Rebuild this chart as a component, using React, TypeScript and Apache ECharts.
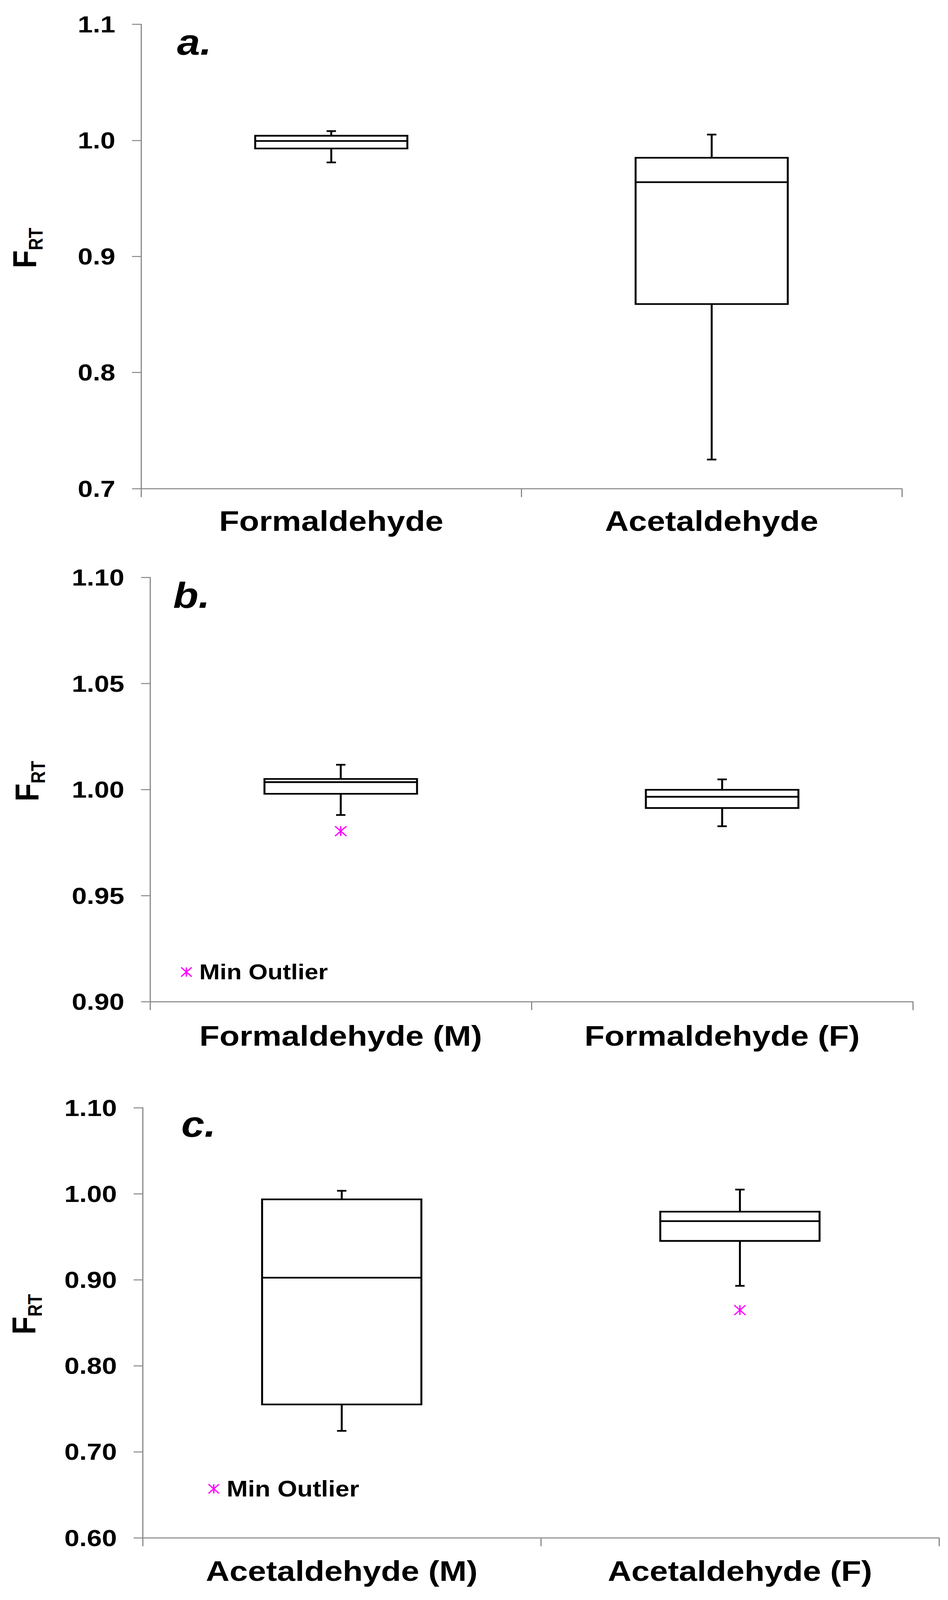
import React, { useEffect, useRef, useState } from "react";
import * as echarts from "echarts";

// ---------------- data ----------------
const categoriesA = ["Formaldehyde", "Acetaldehyde"];
const categoriesB = ["Formaldehyde (M)", "Formaldehyde (F)"];
const categoriesC = ["Acetaldehyde (M)", "Acetaldehyde (F)"];

// each row: [min, Q1, median, Q3, max]
const boxesA = [
  [0.981, 0.993, 0.9995, 1.004, 1.008],
  [0.725, 0.859, 0.964, 0.985, 1.005],
];
const boxesB = [
  [0.988, 0.998, 1.0035, 1.005, 1.0117],
  [0.9827, 0.9913, 0.9966, 0.9999, 1.0048],
];
const boxesC = [
  [0.7243, 0.755, 0.9024, 0.9934, 1.0034],
  [0.8929, 0.9451, 0.9681, 0.9791, 1.0048],
];

// each row: [category index, value]
const outliersB = [[0, 0.9804]];
const outliersC = [[1, 0.8647]];

const yTicksA = [0.7, 0.8, 0.9, 1.0, 1.1];
const yTicksB = [0.9, 0.95, 1.0, 1.05, 1.1];
const yTicksC = [0.6, 0.7, 0.8, 0.9, 1.0, 1.1];

const panelLetters = ["a.", "b.", "c."];
const legendLabel = "Min Outlier";

// ---------------- styles ----------------
const FIG_W = 2426;
const FIG_H = 4706;
const FONT = '"Liberation Sans", Arial, Helvetica, sans-serif';
const AXIS_GREY = "#8a8a8a";
const MAGENTA = "#ff00ff";
const BOX_FRAC = 0.4;
const LINE_W = 5;
const CAP_HALF = 12;
const STAR_HALF = 14.5;
const CAT_FS = 84;

function starLines(cx: number, cy: number, s: number) {
  const style = { stroke: MAGENTA, lineWidth: 3.5 };
  return [
    { type: "line", shape: { x1: cx - s, y1: cy - s, x2: cx + s, y2: cy + s }, style },
    { type: "line", shape: { x1: cx - s, y1: cy + s, x2: cx + s, y2: cy - s }, style },
    { type: "line", shape: { x1: cx, y1: cy - s, x2: cx, y2: cy + s }, style },
  ];
}

function renderBox(params: any, api: any) {
  const c = api.value(0);
  const lo = api.coord([c, api.value(1)]);
  const q1 = api.coord([c, api.value(2)]);
  const med = api.coord([c, api.value(3)]);
  const q3 = api.coord([c, api.value(4)]);
  const hi = api.coord([c, api.value(5)]);
  const band = api.size([1, 0])[0];
  const w = band * BOX_FRAC;
  const cx = lo[0];
  const st = { stroke: "#000", lineWidth: LINE_W, fill: "none" };
  return {
    type: "group",
    children: [
      { type: "line", shape: { x1: cx, y1: hi[1], x2: cx, y2: q3[1] }, style: st },
      { type: "line", shape: { x1: cx, y1: q1[1], x2: cx, y2: lo[1] }, style: st },
      { type: "line", shape: { x1: cx - CAP_HALF, y1: hi[1], x2: cx + CAP_HALF, y2: hi[1] }, style: st },
      { type: "line", shape: { x1: cx - CAP_HALF, y1: lo[1], x2: cx + CAP_HALF, y2: lo[1] }, style: st },
      {
        type: "rect",
        shape: { x: cx - w / 2, y: q3[1], width: w, height: q1[1] - q3[1] },
        style: { stroke: "#000", lineWidth: LINE_W, fill: "#fff" },
      },
      { type: "line", shape: { x1: cx - w / 2, y1: med[1], x2: cx + w / 2, y2: med[1] }, style: st },
    ],
  };
}

function renderOutlier(params: any, api: any) {
  const p = api.coord([api.value(0), api.value(1)]);
  return { type: "group", children: starLines(p[0], p[1], STAR_HALF) };
}

function makeX(cats: string[], gridIndex: number, margin: number) {
  return {
    type: "category",
    gridIndex,
    data: cats,
    boundaryGap: true,
    axisLine: { show: true, onZero: false, lineStyle: { color: AXIS_GREY, width: 3 } },
    axisTick: { show: true, length: 25, lineStyle: { color: AXIS_GREY, width: 3 } },
    splitLine: { show: false },
    axisLabel: {
      interval: 0,
      margin,
      fontSize: CAT_FS,
      lineHeight: CAT_FS,
      fontWeight: "bold",
      color: "#000",
      fontFamily: FONT,
    },
  };
}

function makeY(ticks: number[], digits: number, gridIndex: number, nameGap: number) {
  return {
    type: "value",
    gridIndex,
    min: ticks[0],
    max: ticks[ticks.length - 1],
    interval: +(ticks[1] - ticks[0]).toFixed(4),
    axisLine: { show: true, onZero: false, lineStyle: { color: AXIS_GREY, width: 3 } },
    axisTick: { show: true, length: 23, lineStyle: { color: AXIS_GREY, width: 3 } },
    splitLine: { show: false },
    axisLabel: {
      margin: 66,
      fontSize: 69,
      fontWeight: "bold",
      color: "#000",
      fontFamily: FONT,
      formatter: (v: number) => v.toFixed(digits),
    },
    name: "{f|F}{s|RT}",
    nameLocation: "middle",
    nameRotate: 90,
    nameGap,
    nameTextStyle: {
      padding: [0, 0, 0, 50],
      rich: {
        f: { fontSize: 86, lineHeight: 86, verticalAlign: "top", fontWeight: "bold", fontFamily: FONT, color: "#000" },
        s: { fontSize: 50, lineHeight: 97, verticalAlign: "bottom", fontWeight: "bold", fontFamily: FONT, color: "#000" },
      },
    },
  };
}

function letter(text: string, x: number, y: number) {
  return {
    type: "text",
    x,
    y,
    style: {
      text,
      fill: "#000",
      font: `italic bold 106px ${FONT}`,
      textAlign: "left",
      verticalAlign: "middle",
      textVerticalAlign: "middle",
    },
  };
}

function legend(x: number, y: number, fs: number) {
  return {
    type: "group",
    x,
    y,
    children: [
      ...starLines(0, 0, 13.5),
      {
        type: "text",
        x: 33,
        y: 0,
        style: {
          text: legendLabel,
          fill: "#000",
          font: `bold ${fs}px ${FONT}`,
          textAlign: "left",
          verticalAlign: "middle",
          textVerticalAlign: "middle",
        },
      },
    ],
  };
}

const toBoxData = (rows: number[][]) => rows.map((r, i) => [i, ...r]);

export default function App() {
  const ref = useRef<HTMLDivElement>(null);
  // the browser viewport may be shorter than the figure: squeeze the figure vertically to fit it
  const [scaleY] = useState(() =>
    typeof window !== "undefined" && window.innerHeight > 0 ? Math.min(1, window.innerHeight / FIG_H) : 1
  );
  useEffect(() => {
    document.body.style.margin = "0";
    if (!ref.current) return;
    const chart = echarts.init(ref.current, undefined, { renderer: "svg" });
    const option: any = {
      animation: false,
      backgroundColor: "#fff",
      grid: [
        { left: 361, top: 71.5, width: 1947, height: 1365.5 },
        { left: 384, top: 1698.6, width: 1952, height: 1247.4 },
        { left: 365, top: 3258, width: 2038, height: 1265 },
      ],
      xAxis: [makeX(categoriesA, 0, 54), makeX(categoriesB, 1, 59), makeX(categoriesC, 2, 56)],
      yAxis: [makeY(yTicksA, 1, 0, 244), makeY(yTicksB, 2, 1, 261), makeY(yTicksC, 2, 2, 250)],
      series: [
        { type: "custom", name: "A", xAxisIndex: 0, yAxisIndex: 0, renderItem: renderBox, encode: { x: 0, y: [1, 2, 3, 4, 5] }, data: toBoxData(boxesA) },
        { type: "custom", name: "B", xAxisIndex: 1, yAxisIndex: 1, renderItem: renderBox, encode: { x: 0, y: [1, 2, 3, 4, 5] }, data: toBoxData(boxesB) },
        { type: "custom", name: "C", xAxisIndex: 2, yAxisIndex: 2, renderItem: renderBox, encode: { x: 0, y: [1, 2, 3, 4, 5] }, data: toBoxData(boxesC) },
        { type: "custom", name: "Min Outlier B", xAxisIndex: 1, yAxisIndex: 1, renderItem: renderOutlier, encode: { x: 0, y: 1 }, data: outliersB },
        { type: "custom", name: "Min Outlier C", xAxisIndex: 2, yAxisIndex: 2, renderItem: renderOutlier, encode: { x: 0, y: 1 }, data: outliersC },
      ],
      graphic: [
        letter(panelLetters[0], 453, 124),
        letter(panelLetters[1], 443, 1751),
        letter(panelLetters[2], 464, 3307),
        legend(477, 2859, 63),
        legend(547, 4379, 65),
      ],
    };
    chart.setOption(option);
    return () => chart.dispose();
  }, []);
  return (
    <div
      ref={ref}
      style={{
        position: "absolute",
        left: 0,
        top: 0,
        width: FIG_W,
        height: FIG_H,
        transform: `scaleY(${scaleY})`,
        transformOrigin: "0 0",
      }}
    />
  );
}
